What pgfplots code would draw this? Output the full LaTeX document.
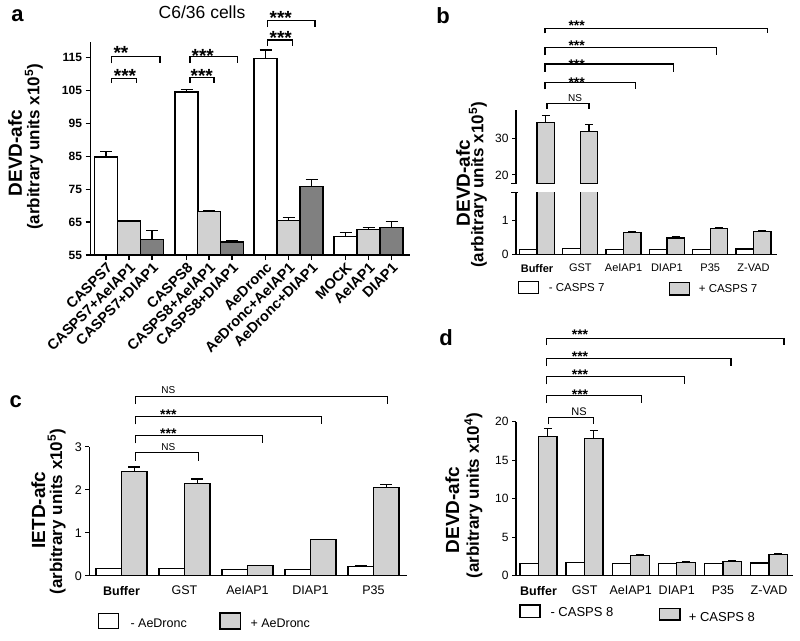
\documentclass[border=0pt]{standalone}
\usepackage{fontspec}
\setmainfont{Liberation Sans}
\usepackage{pgfplots}
\pgfplotsset{compat=1.18}
\definecolor{lg}{gray}{0.82}
\definecolor{dg}{gray}{0.5}
\newcommand{\fs}[1]{\fontsize{#1}{#1}\selectfont}
\pgfplotsset{
 panel/.style={
  scale only axis, anchor=south west,
  axis lines*=left, axis line style={-, line width=1.4pt},
  /pgf/number format/assume math mode=true,
  tick align=outside, major tick length=4pt,
  tick style={line width=1.1pt, black},
  xtick pos=bottom, ytick pos=left,
  enlargelimits=false, clip=true,
 },
 bb/.style n args={2}{ybar, bar shift=0pt, bar width=#1, draw=black, line width=1.3pt,
  /pgfplots/error bars/y dir=plus, /pgfplots/error bars/y explicit,
  /pgfplots/error bars/error bar style={line width=1.2pt, black},
  /pgfplots/error bars/error mark options={rotate=90, mark size=#2, line width=1.2pt, black}},
}
\begin{document}
\begin{tikzpicture}
\useasboundingbox (0pt,0pt) rectangle (800pt,-640pt);
% ---------------- panel a
\begin{axis}[panel, at={(90.5pt,-255pt)}, width=319.5pt, height=213pt,
 xmin=90.5, xmax=410, ymin=55, ymax=119.6,
 ytick={55,65,75,85,95,105,115},
 xtick={106,129,152,186.5,209,232,265.5,288.5,311.5,345.5,368.5,391.5},
 xticklabels={CASPS7,CASPS7+AeIAP1,CASPS7+DIAP1,CASPS8,CASPS8+AeIAP1,CASPS8+DIAP1,AeDronc,AeDronc+AeIAP1,AeDronc+DIAP1,MOCK,AeIAP1,DIAP1},
 x tick label style={rotate=45, anchor=north east, font=\bfseries\fs{14.5}, inner sep=1pt},
 y tick label style={font=\bfseries\fs{12}},
 major tick length=5pt]
\addplot[bb={23}{6pt}, fill=white] coordinates {(106,84.7) +- (0,1.7) (186.5,104.4) +- (0,0.9) (265.5,114.7) +- (0,2.5) (345.5,60.6) +- (0,1.2)};
\addplot[bb={23}{6pt}, fill=lg] coordinates {(129,65.3) +- (0,0.25) (209,68.1) +- (0,0.5) (288.5,65.4) +- (0,1.0) (368.5,62.8) +- (0,0.6)};
\addplot[bb={23}{6pt}, fill=dg] coordinates {(152,59.6) +- (0,2.8) (232,58.9) +- (0,0.6) (311.5,75.7) +- (0,2.1) (391.5,63.3) +- (0,1.8)};
\end{axis}
% ---------------- panel b (lower)
\begin{axis}[panel, at={(516pt,-254.5pt)}, width=261pt, height=61.8pt,
 xmin=516, xmax=777, ymin=0, ymax=1.82, ytick={0,1},
 xtick={537,580.3,623.6,666.9,710.2,753.5},
 xticklabels={\textbf{Buffer},GST,AeIAP1,DIAP1,P35,Z-VAD},
 xtick style={draw=none},
 x tick label style={font=\fs{11}, yshift=-2pt},
 y tick label style={font=\fs{12}}]
\addplot[bb={17.5}{4pt}, fill=white] coordinates {(528.25,0.15) (571.55,0.18) (614.85,0.15) (658.15,0.15) (701.45,0.15) (744.75,0.16)};
\addplot[bb={17.5}{4pt}, fill=lg] coordinates {(545.75,34.3) +- (0,1.9) (589.05,31.8) +- (0,2.0) (632.35,0.64) +- (0,0.03) (675.65,0.49) +- (0,0.03) (718.95,0.77) +- (0,0.03) (762.25,0.67) +- (0,0.03)};
\end{axis}
% ---------------- panel b (upper)
\begin{axis}[panel, at={(516pt,-183.3pt)}, width=261pt, height=73.3pt,
 xmin=516, xmax=777, ymin=17.7, ymax=37.7, ytick={20,30},
 axis x line=none, xtick=\empty,
 y tick label style={font=\fs{12}}]
\addplot[bb={17.5}{4pt}, fill=lg] coordinates {(545.75,34.3) +- (0,1.9) (589.05,31.8) +- (0,2.0)};
\end{axis}
% ---------------- panel c
\begin{axis}[panel, at={(89.3pt,-575.7pt)}, width=317.7pt, height=129pt,
 xmin=89.3, xmax=407, ymin=0, ymax=3, ytick={0,1,2,3},
 xtick={121.5,184.5,247.5,310.5,373.5},
 xticklabels={\textbf{Buffer},GST,AeIAP1,DIAP1,P35},
 xtick style={draw=none},
 x tick label style={font=\fs{12.5}, yshift=-3pt},
 y tick label style={font=\fs{12.5}}]
\addplot[bb={25.5}{6pt}, fill=white] coordinates {(108.75,0.17) (171.75,0.17) (234.75,0.14) (297.75,0.14) (360.75,0.22) +- (0,0.01)};
\addplot[bb={25.5}{6pt}, fill=lg] coordinates {(134.25,2.42) +- (0,0.11) (197.25,2.15) +- (0,0.10) (260.25,0.23) +- (0,0.01) (323.25,0.84) +- (0,0.01) (386.25,2.05) +- (0,0.08)};
\end{axis}
% ---------------- panel d
\begin{axis}[panel, at={(516pt,-575.7pt)}, width=277pt, height=154pt,
 xmin=516, xmax=793, ymin=0, ymax=20, ytick={0,5,10,15,20},
 xtick={538.5,584.6,630.7,676.8,722.9,769},
 xticklabels={\textbf{Buffer},GST,AeIAP1,DIAP1,P35,Z-VAD},
 xtick style={draw=none},
 x tick label style={font=\fs{12.5}, yshift=-3pt},
 y tick label style={font=\fs{12}}]
\addplot[bb={18.5}{4pt}, fill=white] coordinates {(529.25,1.6) (575.35,1.72) (621.45,1.6) (667.55,1.6) (713.65,1.6) (759.75,1.65) +- (0,0.05)};
\addplot[bb={18.5}{4pt}, fill=lg] coordinates {(547.75,18.1) +- (0,1.0) (593.85,17.8) +- (0,1.1) (639.95,2.64) +- (0,0.08) (686.05,1.73) +- (0,0.06) (732.15,1.85) +- (0,0.06) (778.25,2.77) +- (0,0.12)};
\end{axis}
% ---------------- annotations
\begin{scope}[x=1pt, y=-1pt, line width=1.1pt]
% panel letters and title
\node[font=\bfseries\fs{22}] at (17.5,15.8) {a};
\node[font=\bfseries\fs{22}] at (443,15.8) {b};
\node[font=\bfseries\fs{22}] at (15.8,402) {c};
\node[font=\bfseries\fs{22}] at (446,338) {d};
\node[font=\fs{17.5}] at (202,12.5) {C6/36 cells};
% axis labels
\node[rotate=90, font=\bfseries\fs{19}] at (15,153) {DEVD-afc};
\node[rotate=90, font=\bfseries\fs{17}] at (34,147) {(arbitrary units x10\textsuperscript{5})};
\node[rotate=90, font=\bfseries\fs{19}] at (463,183) {DEVD-afc};
\node[rotate=90, font=\bfseries\fs{17}] at (478,185) {(arbitrary units x10\textsuperscript{5})};
\node[rotate=90, font=\bfseries\fs{19}] at (38.3,510) {IETD-afc};
\node[rotate=90, font=\bfseries\fs{17}] at (56.7,511.7) {(arbitrary units x10\textsuperscript{5})};
\node[rotate=90, font=\bfseries\fs{19}] at (452.3,510) {DEVD-afc};
\node[rotate=90, font=\bfseries\fs{17}] at (473.3,495.7) {(arbitrary units x10\textsuperscript{4})};
% break marks panel b
\draw[line width=1.3pt] (511,183.3) -- (517,183.3);
\draw[line width=1.3pt] (511,192.7) -- (518,192.7);
% brackets panel a
\draw (111.7,63.3) -- (111.7,56.7) -- (160,56.7) -- (160,63.3);
\draw (111.7,83) -- (111.7,78.3) -- (136.7,78.3) -- (136.7,83);
\draw (190,63) -- (190,56.7) -- (237.7,56.7) -- (237.7,63);
\draw (190,83) -- (190,77.7) -- (214,77.7) -- (214,83);
\draw (267.7,27) -- (267.7,20.7) -- (315,20.7) -- (315,27);
\draw (267.7,46) -- (267.7,40) -- (292.3,40) -- (292.3,46);
\node[font=\bfseries\fs{19}, anchor=base] at (121,59.3) {**};
\node[font=\bfseries\fs{19}, anchor=base] at (125,82) {***};
\node[font=\bfseries\fs{19}, anchor=base] at (202.7,62) {***};
\node[font=\bfseries\fs{19}, anchor=base] at (201.7,82) {***};
\node[font=\bfseries\fs{19}, anchor=base] at (280.7,24.3) {***};
\node[font=\bfseries\fs{19}, anchor=base] at (280.7,44.3) {***};
% brackets panel b
\draw (547,109) -- (547,103.3) -- (589,103.3) -- (589,109);
\draw (545,89.3) -- (545,82.7) -- (635.7,82.7) -- (635.7,89.3);
\draw (545,71.7) -- (545,64) -- (673.3,64) -- (673.3,71.7);
\draw (545,55) -- (545,47.7) -- (716.7,47.7) -- (716.7,55);
\draw (545,33.3) -- (545,28.3) -- (767.7,28.3) -- (767.7,33.3);
\node[font=\fs{10}] at (575,98.3) {NS};
\node[font=\bfseries\fs{14}, anchor=base] at (576.7,87.3) {***};
\node[font=\bfseries\fs{14}, anchor=base] at (576.7,69) {***};
\node[font=\bfseries\fs{14}, anchor=base] at (576.7,50.7) {***};
\node[font=\bfseries\fs{14}, anchor=base] at (576.7,30.7) {***};
% brackets panel c
\draw (135.7,460.7) -- (135.7,452.3) -- (198.3,452.3) -- (198.3,460.7);
\draw (135.7,443.3) -- (135.7,435.7) -- (262.3,435.7) -- (262.3,443.3);
\draw (135.7,424.3) -- (135.7,416.7) -- (321.7,416.7) -- (321.7,424.3);
\draw (135.7,404) -- (135.7,396.7) -- (387.7,396.7) -- (387.7,404);
\node[font=\fs{10}] at (168.3,446.7) {NS};
\node[font=\bfseries\fs{14}, anchor=base] at (168.3,438) {***};
\node[font=\bfseries\fs{14}, anchor=base] at (168.3,419) {***};
\node[font=\fs{10}] at (168.3,390) {NS};
% brackets panel d
\draw (548.3,424.3) -- (548.3,417.3) -- (593.3,417.3) -- (593.3,424.3);
\draw (546.7,403.3) -- (546.7,395.7) -- (641.7,395.7) -- (641.7,403.3);
\draw (546.7,384.3) -- (546.7,376.7) -- (684.3,376.7) -- (684.3,384.3);
\draw (546.7,366) -- (546.7,358.3) -- (731,358.3) -- (731,366);
\draw (546.7,345) -- (546.7,338.3) -- (784,338.3) -- (784,345);
\node[font=\fs{11}] at (579,411.7) {NS};
\node[font=\bfseries\fs{14}, anchor=base] at (580,399.7) {***};
\node[font=\bfseries\fs{14}, anchor=base] at (580,379.7) {***};
\node[font=\bfseries\fs{14}, anchor=base] at (580,361.3) {***};
\node[font=\bfseries\fs{14}, anchor=base] at (580,339) {***};
% legends
\draw[line width=1.2pt, fill=white] (518.3,281.7) rectangle (538.3,293.3);
\node[font=\fs{11.5}, anchor=west, inner sep=0pt] at (548.3,287.7) {- CASPS 7};
\draw[line width=1.2pt, fill=lg] (669.3,282.7) rectangle (689.3,295);
\node[font=\fs{11.5}, anchor=west, inner sep=0pt] at (698.3,288.3) {+ CASPS 7};
\draw[line width=1.2pt, fill=white] (98.3,613.3) rectangle (118.3,628.3);
\node[font=\fs{12.5}, anchor=west, inner sep=0pt] at (130,623.3) {- AeDronc};
\draw[line width=1.2pt, fill=lg] (220,613) rectangle (240.7,629);
\node[font=\fs{12.5}, anchor=west, inner sep=0pt] at (250,623.3) {+ AeDronc};
\draw[line width=1.2pt, fill=white] (520,605) rectangle (540,617.3);
\node[font=\fs{13}, anchor=west, inner sep=0pt] at (550,611.7) {- CASPS 8};
\draw[line width=1.2pt, fill=lg] (659.3,608.3) rectangle (680,620);
\node[font=\fs{13}, anchor=west, inner sep=0pt] at (688.3,617) {+ CASPS 8};
\end{scope}
\end{tikzpicture}
\end{document}
